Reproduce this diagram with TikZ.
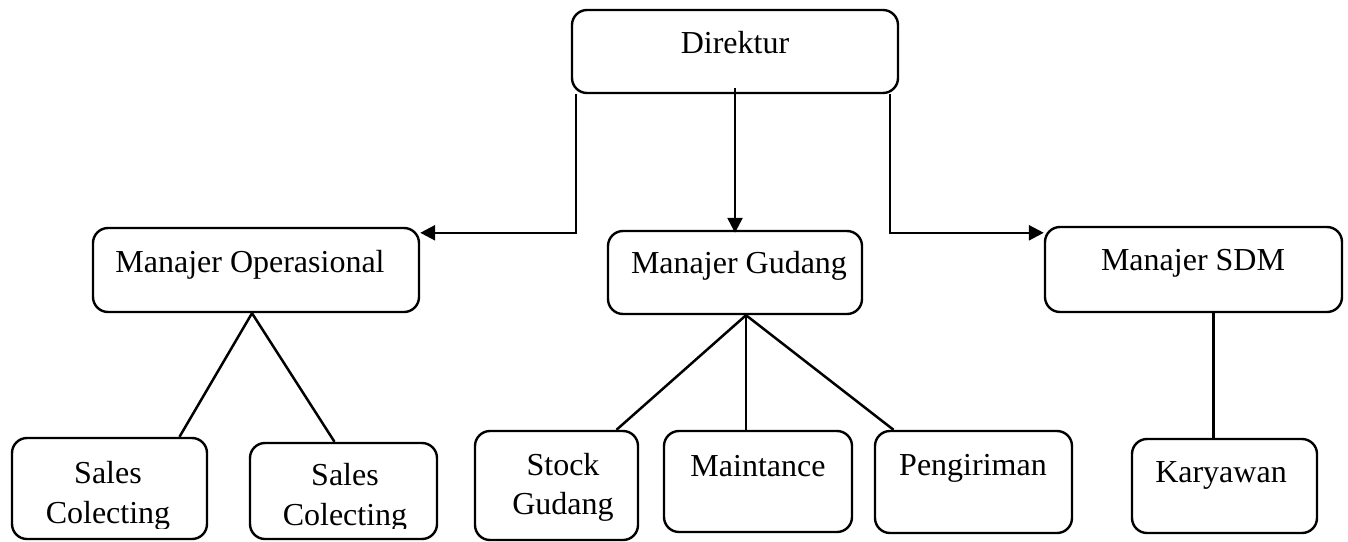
\documentclass[tikz,border=0pt]{standalone}
\usepackage{fontspec}
\setmainfont{Liberation Serif}
\usetikzlibrary{arrows.meta}
\begin{document}
\begin{tikzpicture}[x=1pt,y=-1pt,
  box/.style={draw,line width=2.4pt,rounded corners=15pt,inner sep=0pt,minimum width=#1},
  txt/.style={anchor=base,inner sep=0pt,font=\fontsize{32}{38}\selectfont},
  link/.style={line width=2.5pt},
  arr/.style={line width=2.5pt,-{Triangle[length=15pt,width=15pt]}}]
\useasboundingbox (0,0) rectangle (1348,541);
% boxes: (center x, center y), width, height
\node[box=326pt,minimum height=83pt] (dir) at (735,51.5) {};
\node[box=326pt,minimum height=84pt] (mo) at (256,270) {};
\node[box=254pt,minimum height=83pt] (mg) at (735,272.5) {};
\node[box=297pt,minimum height=85pt] (sdm) at (1193.5,269.5) {};
\node[box=195pt,minimum height=101pt] (sc1) at (109.5,488.5) {};
\node[box=187pt,minimum height=96pt] (sc2) at (343.5,491) {};
\node[box=163pt,minimum height=109pt] (sg) at (556.5,485.5) {};
\node[box=188pt,minimum height=101pt] (mt) at (758,481.5) {};
\node[box=197pt,minimum height=102pt] (pg) at (973.5,482) {};
\node[box=185pt,minimum height=94pt] (kar) at (1224.5,486) {};
% texts
\node[txt] (tdir) at (735,53) {Direktur};
\node[txt] (tmo) at (250,272) {Manajer Operasional};
\node[txt] (tmg) at (739,273) {Manajer Gudang};
\node[txt] (tsdm) at (1193,270) {Manajer SDM};
\begin{scope}
\clip (0,0) rectangle (1348,528);
\node[txt] (tsc1a) at (108,483) {Sales};
\node[txt] (tsc1b) at (108,523) {Colecting};
\node[txt] (tsc2a) at (345,485) {Sales};
\node[txt] (tsc2b) at (345,525) {Colecting};
\end{scope}
\node[txt] (tsga) at (563,475) {Stock};
\node[txt] (tsgb) at (563,514) {Gudang};
\node[txt] (tmt) at (758,476) {Maintance};
\node[txt] (tpg) at (973,475) {Pengiriman};
\node[txt] (tkar) at (1221,482) {Karyawan};
% connectors
\draw[arr] ([xshift=5pt]dir.south west) |- ([yshift=-6pt]mo.north east);
\draw[arr] ([xshift=-9pt]dir.south east) |- ([yshift=-7pt]sdm.north west);
\draw[arr] ([yshift=6pt]dir.south) -- ([yshift=-3pt]dir.south |- mg.north);
\draw[link] ([xshift=70pt]sc1.north) -- ([xshift=-4pt]mo.south) -- ([xshift=-9pt]sc2.north);
\draw[link] ([xshift=60pt]sg.north) -- ([xshift=11pt]mg.south) -- ([xshift=-80pt]pg.north);
\draw[link] ([xshift=11pt]mg.south) -- ([xshift=-12pt]mt.north);
\draw[link] ([xshift=20pt]sdm.south) -- ([xshift=-11pt]kar.north);
\end{tikzpicture}
\end{document}
